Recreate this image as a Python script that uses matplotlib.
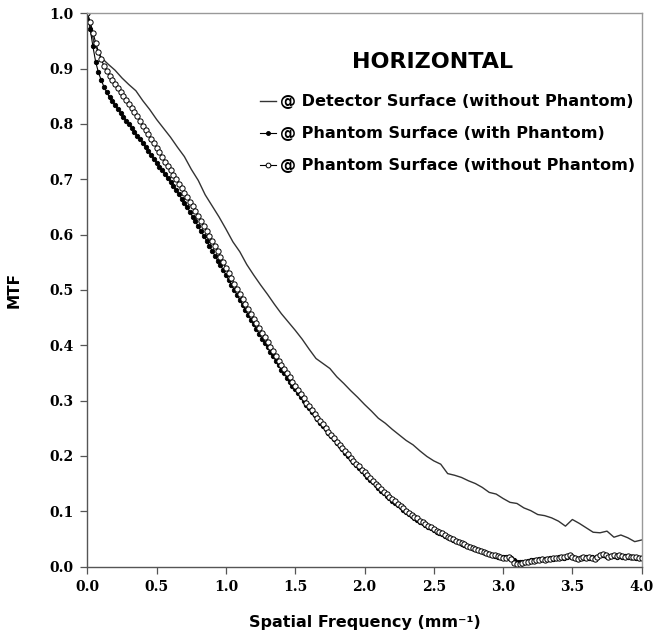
import matplotlib
matplotlib.use("Agg")
import matplotlib.pyplot as plt
import numpy as np

# sampling grids (mm^-1)
freq = np.round(np.arange(201) * 0.02, 2)
det_freq = np.round(np.arange(81) * 0.05, 2)

# @ Detector Surface (without Phantom) -- every 0.05 mm^-1
mtf_detector = [
    1.000, 0.945, 0.920, 0.908, 0.897, 0.883, 0.871, 0.860, 0.842, 0.826,
    0.808, 0.792, 0.776, 0.758, 0.741, 0.718, 0.698, 0.672, 0.652, 0.632,
    0.610, 0.587, 0.569, 0.546, 0.527, 0.509, 0.492, 0.474, 0.457, 0.442,
    0.427, 0.411, 0.393, 0.376, 0.367, 0.358, 0.343, 0.331, 0.318, 0.306,
    0.293, 0.281, 0.268, 0.259, 0.248, 0.238, 0.228, 0.220, 0.209, 0.199,
    0.191, 0.185, 0.168, 0.165, 0.161, 0.155, 0.150, 0.143, 0.134, 0.131,
    0.123, 0.116, 0.114, 0.106, 0.101, 0.094, 0.092, 0.088, 0.082, 0.073,
    0.085, 0.078, 0.070, 0.062, 0.061, 0.064, 0.053, 0.057, 0.052, 0.045,
    0.048,
]

# @ Phantom Surface (with Phantom) -- every 0.02 mm^-1
mtf_with_phantom = [
    1.000, 0.972, 0.940, 0.912, 0.893, 0.879, 0.867, 0.857, 0.848, 0.841,
    0.834, 0.827, 0.820, 0.813, 0.806, 0.800, 0.793, 0.786, 0.779, 0.772,
    0.765, 0.758, 0.751, 0.744, 0.737, 0.730, 0.723, 0.716, 0.709, 0.702,
    0.695, 0.688, 0.680, 0.673, 0.665, 0.657, 0.649, 0.641, 0.632, 0.624,
    0.615, 0.606, 0.598, 0.589, 0.580, 0.571, 0.562, 0.553, 0.545, 0.536,
    0.527, 0.518, 0.509, 0.500, 0.491, 0.482, 0.473, 0.464, 0.455, 0.446,
    0.438, 0.429, 0.421, 0.412, 0.404, 0.396, 0.388, 0.380, 0.372, 0.364,
    0.356, 0.349, 0.341, 0.334, 0.327, 0.320, 0.313, 0.306, 0.299, 0.292,
    0.286, 0.279, 0.273, 0.266, 0.260, 0.254, 0.248, 0.242, 0.236, 0.230,
    0.224, 0.218, 0.212, 0.206, 0.200, 0.194, 0.189, 0.183, 0.178, 0.172,
    0.167, 0.162, 0.157, 0.152, 0.147, 0.142, 0.137, 0.133, 0.128, 0.124,
    0.119, 0.115, 0.111, 0.107, 0.103, 0.099, 0.095, 0.092, 0.088, 0.085,
    0.081, 0.078, 0.075, 0.072, 0.069, 0.066, 0.063, 0.061, 0.058, 0.056,
    0.053, 0.051, 0.048, 0.046, 0.044, 0.041, 0.039, 0.037, 0.035, 0.033,
    0.031, 0.030, 0.028, 0.026, 0.024, 0.022, 0.021, 0.019, 0.018, 0.017,
    0.017, 0.018, 0.018, 0.015, 0.012, 0.009, 0.008, 0.008, 0.009, 0.010,
    0.011, 0.011, 0.012, 0.013, 0.014, 0.013, 0.014, 0.015, 0.014, 0.016,
    0.017, 0.018, 0.016, 0.018, 0.019, 0.017, 0.016, 0.014, 0.015, 0.016,
    0.017, 0.016, 0.017, 0.015, 0.018, 0.020, 0.021, 0.019, 0.018, 0.019,
    0.019, 0.018, 0.019, 0.018, 0.019, 0.018, 0.017, 0.017, 0.016, 0.016,
    0.015,
]

# @ Phantom Surface (without Phantom) -- every 0.02 mm^-1
mtf_without_phantom = [
    1.000, 0.985, 0.965, 0.947, 0.930, 0.917, 0.905, 0.895, 0.886, 0.879,
    0.872, 0.865, 0.858, 0.851, 0.844, 0.836, 0.829, 0.821, 0.815, 0.806,
    0.797, 0.789, 0.781, 0.772, 0.765, 0.757, 0.749, 0.740, 0.732, 0.724,
    0.716, 0.708, 0.700, 0.692, 0.684, 0.676, 0.668, 0.659, 0.651, 0.642,
    0.633, 0.624, 0.616, 0.606, 0.598, 0.588, 0.579, 0.570, 0.560, 0.550,
    0.540, 0.530, 0.521, 0.511, 0.502, 0.493, 0.484, 0.475, 0.465, 0.457,
    0.448, 0.440, 0.432, 0.423, 0.414, 0.405, 0.397, 0.389, 0.381, 0.372,
    0.364, 0.357, 0.349, 0.342, 0.334, 0.326, 0.319, 0.311, 0.304, 0.296,
    0.290, 0.283, 0.276, 0.269, 0.263, 0.257, 0.250, 0.244, 0.238, 0.232,
    0.226, 0.220, 0.214, 0.208, 0.203, 0.197, 0.191, 0.186, 0.181, 0.175,
    0.170, 0.165, 0.160, 0.155, 0.150, 0.145, 0.140, 0.135, 0.131, 0.126,
    0.122, 0.118, 0.113, 0.109, 0.105, 0.101, 0.097, 0.094, 0.090, 0.087,
    0.083, 0.080, 0.077, 0.074, 0.071, 0.068, 0.065, 0.062, 0.060, 0.057,
    0.054, 0.052, 0.050, 0.047, 0.045, 0.043, 0.040, 0.038, 0.036, 0.034,
    0.032, 0.030, 0.028, 0.026, 0.025, 0.023, 0.021, 0.020, 0.019, 0.017,
    0.016, 0.016, 0.017, 0.014, 0.007, 0.004, 0.005, 0.007, 0.008, 0.008,
    0.010, 0.010, 0.011, 0.012, 0.013, 0.012, 0.014, 0.013, 0.015, 0.016,
    0.015, 0.017, 0.018, 0.019, 0.020, 0.018, 0.015, 0.013, 0.016, 0.017,
    0.015, 0.018, 0.016, 0.014, 0.017, 0.021, 0.022, 0.020, 0.018, 0.019,
    0.020, 0.019, 0.020, 0.019, 0.018, 0.019, 0.018, 0.017, 0.017, 0.016,
    0.016,
]

labels = [
    "@ Detector Surface (without Phantom)",
    "@ Phantom Surface (with Phantom)",
    "@ Phantom Surface (without Phantom)",
]
x_ticks = [0.0, 0.5, 1.0, 1.5, 2.0, 2.5, 3.0, 3.5, 4.0]
y_ticks = [0.0, 0.1, 0.2, 0.3, 0.4, 0.5, 0.6, 0.7, 0.8, 0.9, 1.0]

fig = plt.figure(figsize=(6.67, 6.33), dpi=100)
ax = fig.add_axes([0.131, 0.105, 0.831, 0.874])

ax.plot(det_freq, mtf_detector, color="#333333", lw=1.0, label=labels[0])
ax.plot(freq, mtf_with_phantom, color="black", lw=0.8, marker="o",
        markersize=3.2, markerfacecolor="black", markeredgewidth=0.6,
        label=labels[1])
ax.plot(freq, mtf_without_phantom, color="black", lw=0.8, marker="o",
        markersize=3.8, markerfacecolor="white", markeredgewidth=0.7,
        label=labels[2])

ax.set_xlim(0, 4)
ax.set_ylim(0, 1)
ax.set_xticks(x_ticks)
ax.set_yticks(y_ticks)
ax.set_xticklabels([f"{v:.1f}" for v in x_ticks])
ax.set_yticklabels([f"{v:.1f}" for v in y_ticks])
for lab in ax.get_xticklabels() + ax.get_yticklabels():
    lab.set_family("DejaVu Serif")
    lab.set_weight("bold")
    lab.set_fontsize(10)

ax.tick_params(direction="out", length=5, width=0.9, color="#555555",
               top=False, right=False, pad=5)
ax.tick_params(axis="x", pad=5)
for side in ["left", "bottom"]:
    ax.spines[side].set_color("#555555")
    ax.spines[side].set_linewidth(1.0)
for side in ["top", "right"]:
    ax.spines[side].set_color("#999999")
    ax.spines[side].set_linewidth(1.0)

ax.set_xlabel("Spatial Frequency (mm⁻¹)", fontsize=11.5,
              fontweight="bold", labelpad=15)
ax.set_ylabel("MTF", fontsize=11, fontweight="bold", labelpad=20)

ax.text(0.622, 0.912, "HORIZONTAL", transform=ax.transAxes, ha="center",
        va="center", fontsize=16, fontweight="bold")

ax.legend(loc="upper left", bbox_to_anchor=(0.30, 0.865), frameon=False,
          handlelength=1.0, handletextpad=0.25, labelspacing=1.05,
          borderaxespad=0, prop={"weight": "bold", "size": 11.6},
          markerscale=0.9)

plt.savefig("out.png", dpi=100)
